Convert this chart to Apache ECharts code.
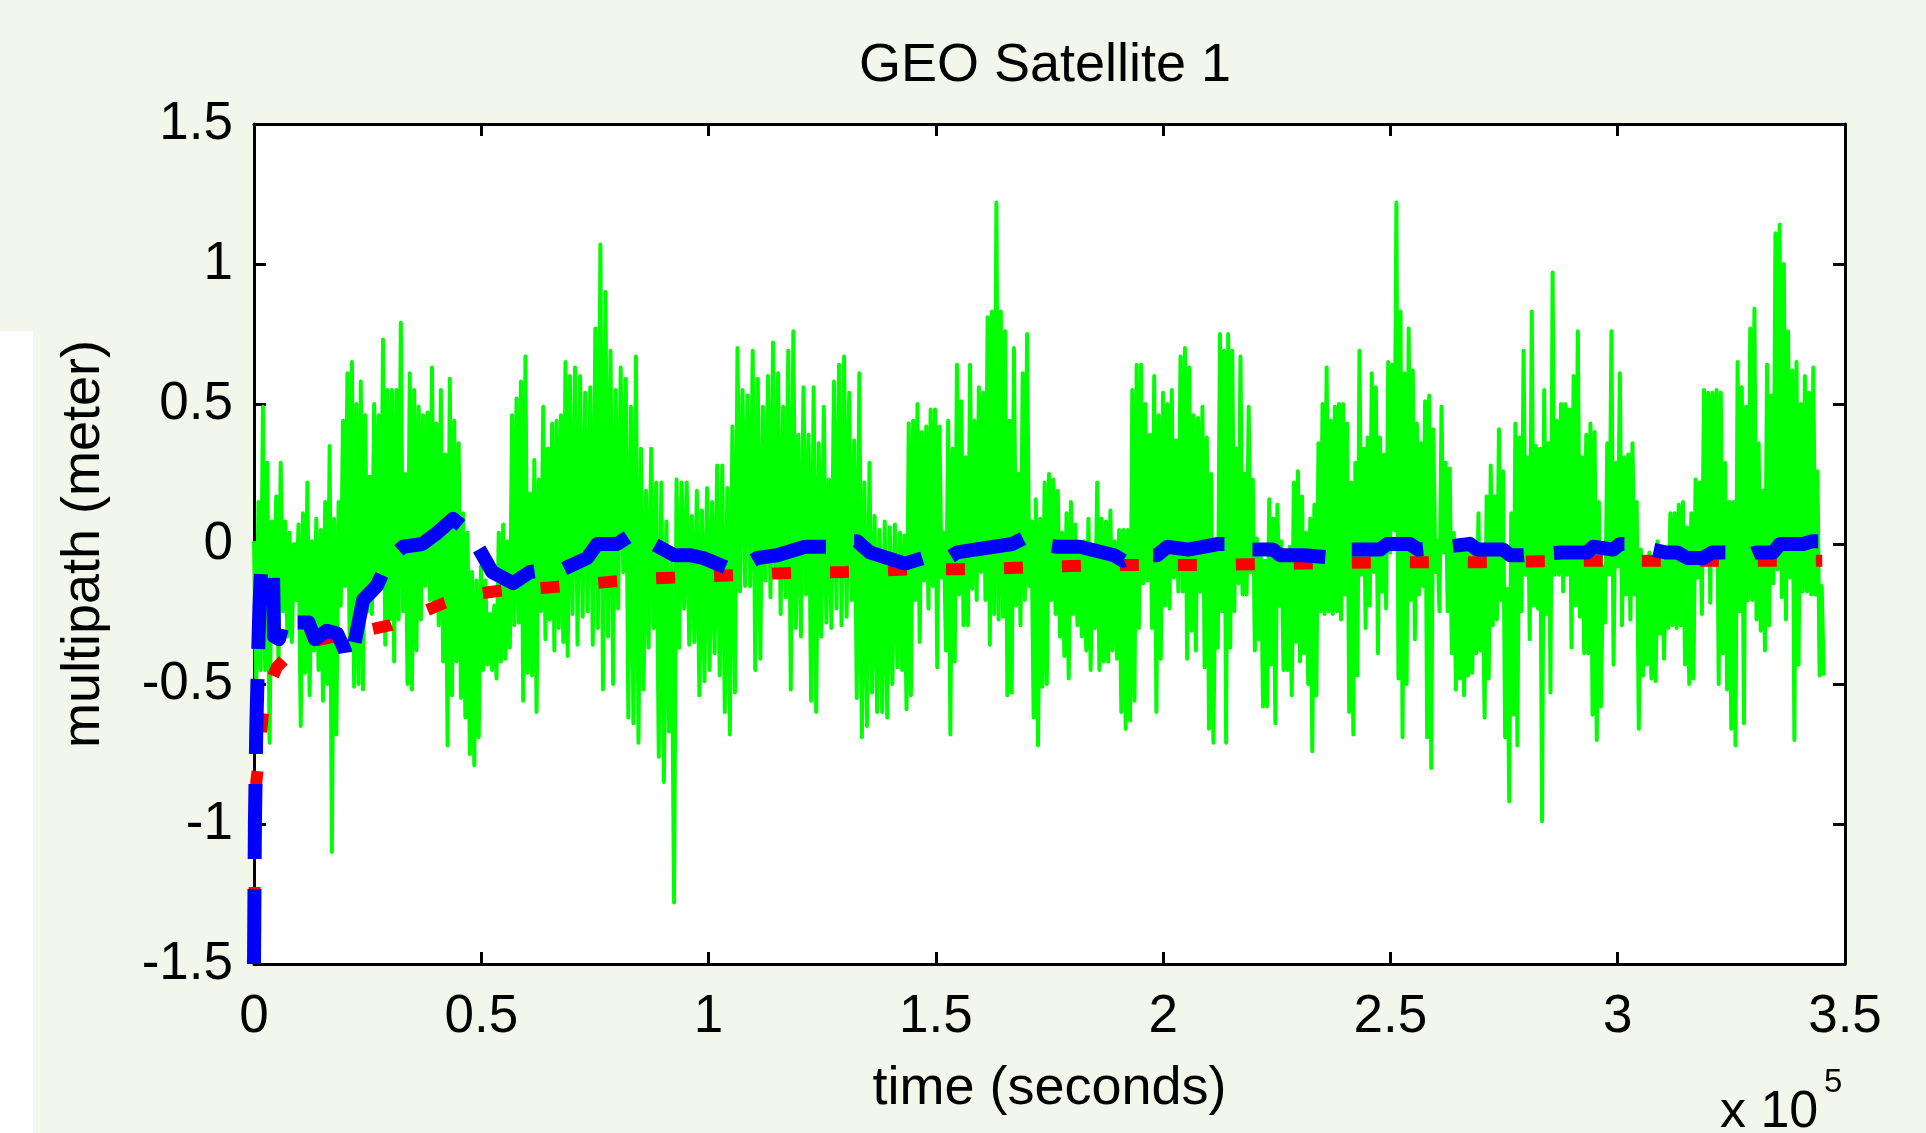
<!DOCTYPE html>
<html>
<head>
<meta charset="utf-8">
<title>GEO Satellite 1</title>
<script src="https://cdn.jsdelivr.net/npm/echarts@6/dist/echarts.min.js"></script>
<style>
html, body { margin: 0; padding: 0; background: #f3f7eb; }
#chart { width: 1926px; height: 1133px; }
</style>
</head>
<body>
<div id="chart"></div>
<script>
// tick labels (x in units of 1e5 s)
const xTicks = [0, 0.5, 1, 1.5, 2, 2.5, 3, 3.5]
const yTicks = [-1.5, -1, -0.5, 0, 0.5, 1, 1.5]

const greenBounds = [0, 69500, 142100, 212500, 282900, 345800]
const greenA = [0.01, -0.52, 0.15, -0.45, 0.49, -0.45, 0.29, -0.71, 0.08, -0.24, 0.17, -0.45, 0.29, -0.24, 0.08, -0.33, 0.04, -0.35, 0.00, -0.20,
  0.07, -0.65, 0.11, -0.46, 0.22, -0.54, 0.01, -0.38, 0.09, -0.45, 0.05, -0.56, 0.15, -0.50, 0.35, -1.10, 0.09, -0.68, 0.15, -0.22,
  0.44, -0.15, 0.61, -0.38, 0.65, -0.51, 0.50, -0.50, 0.58, -0.52, 0.46, -0.24, 0.24, -0.25, 0.50, -0.13, 0.46, -0.16, 0.73, -0.36,
  0.55, -0.27, 0.55, -0.42, 0.55, -0.27, 0.79, -0.24, 0.25, -0.50, 0.61, -0.52, 0.55, -0.38, 0.49, -0.27, 0.46, -0.15, 0.47, -0.20,
  0.63, -0.24, 0.43, -0.29, 0.55, -0.42, 0.32, -0.72, 0.59, -0.54, 0.44, -0.42, 0.36, -0.55, 0.11, -0.62, 0.04, -0.75, -0.10, -0.79,
  -0.13, -0.69, -0.08, -0.45, -0.13, -0.43, -0.25, -0.45, -0.22, -0.48, 0.04, -0.42, 0.07, -0.41, 0.01, -0.37, 0.46, -0.29, 0.52, -0.28,
  0.58, -0.56, 0.67, -0.46, 0.18, -0.47, 0.30, -0.60, 0.23, -0.24, 0.49, -0.34, 0.34, -0.27, 0.43, -0.38, 0.44, -0.30, 0.46, -0.35, 0.65, -0.40]
const greenB = [0.60, -0.25, 0.63, -0.36, 0.60, -0.26, 0.54, -0.24, 0.56, -0.36, 0.77, -0.30, 1.07, -0.52, 0.90, -0.33, 0.69, -0.50, 0.55, -0.23,
  0.63, -0.10, 0.59, -0.62, 0.49, -0.64, 0.67, -0.71, 0.34, -0.52, 0.19, -0.37, 0.34, -0.30, 0.22, -0.76, 0.22, -0.85, 0.08, -0.67,
  -0.05, -1.28, 0.23, -0.37, 0.22, -0.23, 0.22, -0.36, 0.10, -0.35, 0.19, -0.54, 0.12, -0.49, 0.20, -0.45, 0.15, -0.39, 0.28, -0.47,
  0.28, -0.60, 0.20, -0.68, 0.42, -0.53, 0.70, -0.17, 0.55, -0.15, 0.53, -0.15, 0.69, -0.45, 0.59, -0.41, 0.49, -0.13, 0.60, -0.19,
  0.72, -0.10, 0.61, -0.25, 0.49, -0.19, 0.69, -0.52, 0.76, -0.30, 0.39, -0.33, 0.56, -0.18, 0.39, -0.56, 0.56, -0.60, 0.36, -0.33,
  0.49, -0.28, 0.23, -0.30, 0.58, -0.23, 0.64, -0.29, 0.67, -0.26, 0.54, -0.20, 0.37, -0.55, 0.61, -0.69, 0.22, -0.65, 0.29, -0.53,
  0.10, -0.60, 0.05, -0.60, 0.08, -0.62, 0.06, -0.50, 0.07, -0.44]
const greenC = [0.04, -0.45, 0.03, -0.59, 0.43, -0.54, 0.44, -0.20, 0.50, -0.35, 0.40, -0.13, 0.42, -0.23, 0.48, -0.15, 0.48, -0.44, 0.42, -0.12,
  0.04, -0.38, 0.44, -0.68, 0.34, -0.42, 0.64, -0.18, 0.51, -0.29, 0.31, -0.29, 0.64, -0.16, 0.44, -0.20, 0.56, -0.10, 0.54, -0.20,
  0.81, -0.36, 0.83, -0.25, 1.22, -0.27, 0.83, -0.26, 0.76, -0.54, 0.44, -0.53, 0.70, -0.22, 0.25, -0.29, 0.61, -0.20, 0.75, -0.15,
  0.08, -0.62, 0.16, -0.72, 0.09, -0.51, 0.22, -0.50, 0.25, -0.20, 0.23, -0.25, 0.19, -0.33, 0.04, -0.40, 0.11, -0.48, 0.15, -0.25,
  0.07, -0.29, -0.03, -0.33, 0.01, -0.38, 0.09, -0.45, -0.02, -0.30, 0.22, -0.45, 0.09, -0.42, 0.08, -0.42, 0.12, -0.38, 0.01, -0.41,
  0.05, -0.60, 0.05, -0.66, 0.05, -0.63, 0.55, -0.56, 0.64, -0.30, 0.64, -0.14, 0.50, -0.13, 0.39, -0.30, 0.60, -0.60, 0.46, -0.41,
  0.54, -0.22, 0.50, -0.23, 0.55, -0.12, 0.37, -0.17, 0.67, -0.17, 0.70, -0.41, 0.63, -0.31, 0.46, -0.38, 0.45, -0.17, 0.49, -0.44,
  0.38, -0.66, 0.25, -0.71, -0.02, -0.37]
const greenD = [0.75, -0.24, 0.69, -0.71, 0.75, -0.37, 0.69, -0.24, 0.34, -0.14, 0.67, -0.18, 0.25, -0.18, 0.49, -0.10, 0.23, -0.38, 0.02, -0.34,
  -0.05, -0.58, -0.06, -0.58, 0.16, -0.43, 0.09, -0.64, 0.14, -0.22, 0.01, -0.45, -0.06, -0.45, -0.01, -0.54, 0.22, -0.35, 0.26, -0.42,
  0.17, -0.39, 0.04, -0.50, 0.09, -0.74, 0.14, -0.54, 0.36, -0.24, 0.50, -0.25, 0.63, -0.24, 0.44, -0.25, 0.49, -0.24, 0.50, -0.27,
  0.50, -0.18, 0.43, -0.60, 0.22, -0.68, 0.29, -0.47, 0.69, -0.11, 0.34, -0.30, 0.38, -0.22, 0.61, -0.10, 0.56, -0.39, 0.38, -0.17,
  0.32, -0.23, 0.65, -0.03, 0.64, 0.05, 1.22, -0.48, 0.83, -0.69, 0.61, -0.50, 0.77, -0.20, 0.62, -0.34, 0.43, -0.18, 0.36, -0.15,
  0.51, -0.69, 0.53, -0.80, 0.41, -0.10, 0.01, -0.24, 0.49, -0.03, 0.29, -0.24, 0.27, -0.39, 0.04, -0.52, 0.00, -0.48, 0.00, -0.54,
  -0.03, -0.47, 0.02, -0.46, -0.03, -0.39, 0.11, -0.38, -0.03, -0.62, 0.17, -0.48, 0.28, -0.29, 0.17, -0.27, 0.41, -0.20, 0.26, -0.69,
  -0.16, -0.92, 0.11, -0.61, 0.43, -0.72, 0.38, -0.24, 0.69, -0.11, 0.31, -0.34, 0.83, -0.22, 0.35, -0.23]
const greenE = [0.34, -0.99, 0.55, -0.25, 0.36, -0.53, 0.97, -0.11, 0.44, -0.11, 0.50, -0.17, 0.50, -0.11, 0.48, -0.37, 0.60, -0.22, 0.76, -0.26,
  0.31, -0.39, 0.39, -0.39, 0.43, -0.61, 0.40, -0.70, 0.15, -0.58, -0.08, -0.28, 0.36, -0.11, 0.76, -0.43, 0.29, -0.08, 0.61, -0.29,
  0.31, -0.18, 0.32, -0.27, 0.36, -0.18, 0.15, -0.66, -0.02, -0.47, -0.05, -0.43, -0.03, -0.48, -0.08, -0.49, 0.01, -0.32, -0.06, -0.41,
  -0.05, -0.30, 0.11, -0.29, 0.11, -0.30, 0.14, -0.29, 0.15, -0.43, 0.06, -0.50, 0.11, -0.48, 0.23, -0.12, 0.22, -0.25, 0.55, -0.05,
  0.54, -0.21, 0.54, -0.05, 0.55, -0.50, 0.54, -0.39, 0.29, -0.52, 0.15, -0.66, 0.15, -0.72, 0.65, -0.24, 0.56, -0.64, 0.49, -0.20,
  0.77, -0.20, 0.84, -0.27, 0.36, -0.31, 0.19, -0.38, 0.64, -0.29, 0.53, -0.14, 1.11, -0.09, 1.14, -0.19, 1.00, -0.27, 0.76, -0.12,
  0.62, -0.70, 0.65, -0.43, 0.50, -0.17, 0.60, -0.17, 0.54, -0.18, 0.63, -0.18, 0.26, -0.47, -0.15, -0.47]

// red dashed curve
const redT = [0, 200, 500, 1000, 2000, 3000, 5000, 8000, 12000, 18000, 24000, 30000, 36000, 42000, 48000, 55000, 65000, 75000, 85000, 100000,
  115000, 130000, 145000, 160000, 175000, 190000, 210000, 230000, 250000, 270000, 290000, 310000, 330000, 345000]
const redV = [-1.5, -1.1, -0.85, -0.78, -0.6, -0.52, -0.44, -0.39, -0.35, -0.33, -0.31, -0.29, -0.25, -0.21, -0.18, -0.165, -0.155, -0.14, -0.125, -0.115,
  -0.105, -0.1, -0.09, -0.09, -0.08, -0.075, -0.075, -0.07, -0.065, -0.065, -0.06, -0.06, -0.06, -0.06]

// blue dashed curve
const blueT = [0, 200, 500, 900, 1200, 1600, 3000, 4200, 4400, 5500, 6600, 7500, 9000, 12000, 13400, 16000, 18300, 20000, 20400, 21800,
  24000, 27000, 28400, 31400, 32800, 37000, 40300, 43800, 46000, 48200, 52400, 57000, 60700, 65100, 68000, 73300, 75500, 79900, 82700, 85600,
  92400, 95900, 98800, 100300, 104700, 107600, 110700, 115100, 121200, 126700, 128300, 132700, 135500, 143200, 147200, 150900, 152700, 154700, 158600, 166800,
  169200, 172900, 176700, 181700, 189200, 191200, 194300, 198700, 200900, 205500, 212100, 217600, 219100, 224200, 225700, 230800, 238700, 240500, 247700, 249300,
  254300, 256100, 261800, 267500, 269100, 274800, 276300, 279200, 287800, 293300, 294600, 299000, 300500, 302100, 310400, 313100, 315300, 318800, 320800, 325400,
  327400, 330400, 334200, 335700, 340800, 342800, 344100]
const blueV = [-1.5, -1.0, -0.66, -0.4, -0.22, -0.08, -0.07, -0.12, -0.33, -0.34, -0.27, -0.25, -0.28, -0.28, -0.34, -0.31, -0.32, -0.38, -0.42, -0.38,
  -0.2, -0.15, -0.1, -0.03, -0.01, 0.0, 0.04, 0.09, 0.06, 0.02, -0.1, -0.14, -0.1, -0.09, -0.09, -0.05, 0.0, 0.0, 0.03, 0.02,
  -0.04, -0.04, -0.05, -0.06, -0.09, -0.08, -0.05, -0.04, -0.01, -0.01, 0.01, 0.01, -0.03, -0.07, -0.05, -0.04, -0.05, -0.03, -0.02, 0.0,
  0.02, 0.0, -0.01, -0.01, -0.04, -0.06, -0.04, -0.04, -0.01, -0.02, 0.0, 0.0, -0.02, -0.02, -0.04, -0.04, -0.05, -0.02, -0.02, 0.0,
  0.0, -0.02, -0.01, 0.0, -0.02, -0.02, -0.04, -0.04, -0.03, -0.03, -0.01, -0.02, 0.0, 0.0, -0.03, -0.03, -0.05, -0.05, -0.03, -0.03,
  -0.05, -0.03, -0.03, 0.0, 0.0, 0.01, 0.01]

const FONT = "'Liberation Sans', Arial, sans-serif"

const greenData = []
;[greenA, greenB, greenC, greenD, greenE].forEach((vals, k) => {
  const t0 = greenBounds[k], t1 = greenBounds[k + 1]
  vals.forEach((v, i) => greenData.push([t0 + (t1 - t0) * i / vals.length, v]))
})
const redData = redT.map((t, i) => [t, redV[i]])
const blueData = blueT.map((t, i) => [t, blueV[i]])

const xMin = xTicks[0] * 1e5, xMax = xTicks[xTicks.length - 1] * 1e5
const xStep = (xTicks[1] - xTicks[0]) * 1e5
const yMin = yTicks[0], yMax = yTicks[yTicks.length - 1], yStep = yTicks[1] - yTicks[0]

const frame = { show: true, onZero: false, lineStyle: { color: '#000', width: 3 } }
const ticks = { show: true, inside: true, length: 12, lineStyle: { color: '#000', width: 3 } }
const labelStyle = { fontSize: 53, color: '#000', fontFamily: FONT }
const nameStyle = { fontSize: 54, color: '#000', fontFamily: FONT }

const chart = echarts.init(document.getElementById('chart'))
chart.setOption({
  animation: false,
  backgroundColor: '#f3f7eb',
  title: {
    text: 'GEO Satellite 1',
    left: 1040,
    top: 34,
    textAlign: 'center',
    textStyle: { fontSize: 54, fontWeight: 'normal', color: '#000', fontFamily: FONT }
  },
  grid: {
    left: 254, right: 81, top: 124, bottom: 169,
    show: true, backgroundColor: '#fff', borderWidth: 0,
    outerBoundsMode: 'none'
  },
  xAxis: [{
    type: 'value', position: 'bottom', min: xMin, max: xMax, interval: xStep,
    axisLine: frame, axisTick: ticks, splitLine: { show: false },
    axisLabel: { ...labelStyle, margin: 27, formatter: v => String(v / 1e5) },
    name: 'time (seconds)', nameLocation: 'middle', nameGap: 98, nameTextStyle: nameStyle
  }, {
    type: 'value', position: 'top', min: xMin, max: xMax, interval: xStep,
    axisLine: frame, axisTick: ticks, splitLine: { show: false }, axisLabel: { show: false }
  }],
  yAxis: [{
    type: 'value', position: 'left', min: yMin, max: yMax, interval: yStep,
    axisLine: frame, axisTick: ticks, splitLine: { show: false },
    axisLabel: { ...labelStyle, margin: 21 },
    name: 'multipath (meter)', nameLocation: 'middle', nameGap: 143, nameRotate: 90, nameTextStyle: nameStyle
  }, {
    type: 'value', position: 'right', min: yMin, max: yMax, interval: yStep,
    axisLine: frame, axisTick: ticks, splitLine: { show: false }, axisLabel: { show: false }
  }],
  graphic: [
    { type: 'rect', left: 0, top: 331, shape: { width: 33, height: 802 }, style: { fill: '#fff' }, z: -1 },
    { type: 'text', x: 1720, y: 1113, style: { text: 'x 10', fontSize: 52, fontFamily: FONT, fill: '#000', verticalAlign: 'middle' } },
    { type: 'text', x: 1824, y: 1083, style: { text: '5', fontSize: 33, fontFamily: FONT, fill: '#000', verticalAlign: 'middle' } }
  ],
  series: [{
    name: 'raw', type: 'line', data: greenData, showSymbol: false, silent: true,
    lineStyle: { color: '#00ff00', width: 4, join: 'round' }, z: 2
  }, {
    name: 'red', type: 'line', data: redData, showSymbol: false, silent: true,
    lineStyle: { color: '#ff0000', width: 12, type: [19, 39], cap: 'butt' }, z: 3
  }, {
    name: 'blue', type: 'line', data: blueData, showSymbol: false, silent: true,
    lineStyle: { color: '#0000ff', width: 14, type: [75, 30], cap: 'butt', join: 'round' }, z: 4
  }]
})
</script>
</body>
</html>
